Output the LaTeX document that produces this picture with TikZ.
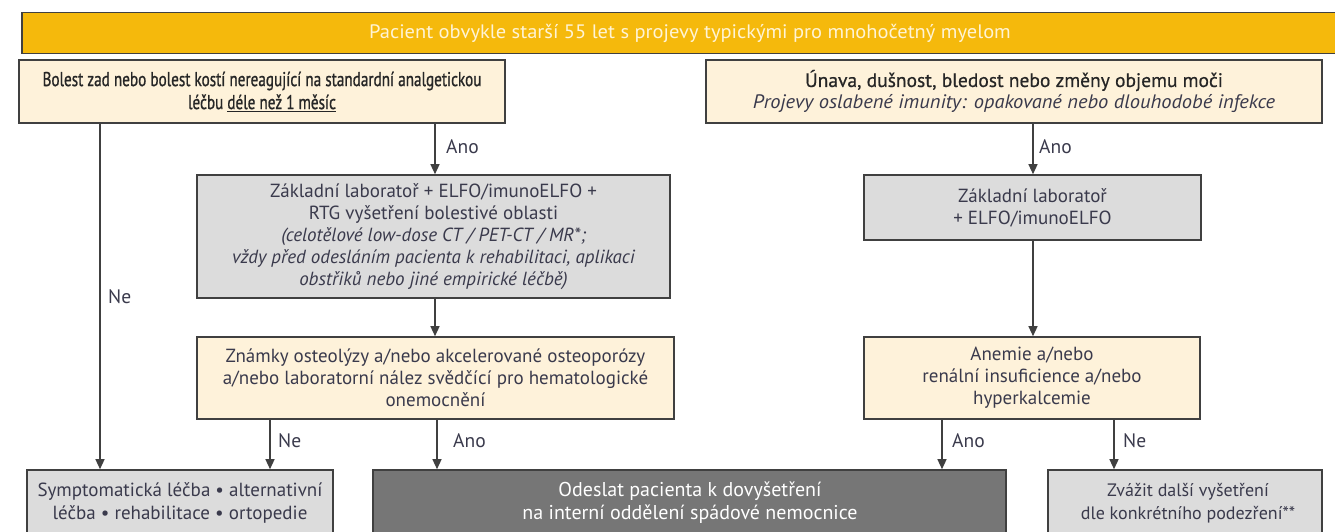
\documentclass[tikz,border=0pt]{standalone}
\usepackage{fontspec}
\setmainfont{PT Sans}
\newfontfamily\regfont{PT Sans}
\newfontfamily\widefont[FakeStretch=1.05]{PT Sans}
\newfontfamily\condtitlefont[FakeStretch=0.76,FakeBold=0.9]{PT Sans}
\newfontfamily\titlefont[FakeBold=0.6]{PT Sans}
\usetikzlibrary{arrows.meta}
\definecolor{barfill}{HTML}{F5B90C}
\definecolor{beige}{HTML}{FEF2DA}
\definecolor{lgray}{HTML}{DCDCDC}
\definecolor{dgray}{HTML}{767676}
\definecolor{edge}{HTML}{404040}
\definecolor{txt}{HTML}{3A3A4C}
\definecolor{bartxt}{HTML}{FFF4D6}
\begin{document}
\begin{tikzpicture}[x=1pt,y=-1pt,
  box/.style={draw=edge, line width=1.6pt, inner sep=0pt, text=txt, align=center,
    font=\regfont\fontsize{19}{22}\selectfont},
  arr/.style={draw=edge, line width=1.3pt, -{Triangle[length=10pt,width=9pt]}},
  lab/.style={text=txt, anchor=west, inner sep=0pt, font=\regfont\fontsize{19.5}{22}\selectfont},
  btxt/.style={text=txt, align=center, inner sep=0pt, font=\regfont\fontsize{19}{23}\selectfont}]
\useasboundingbox (0,0) rectangle (1335,531);
\clip (0,0) rectangle (1335,531);

% top bar
\node[box, fill=barfill, minimum width=1323pt, minimum height=41pt, text=bartxt,
  font=\widefont\fontsize{19.5}{22}\selectfont] (top) at (683.5,33)
  {\hspace*{13pt}Pacient obvykle starší 55 let s projevy typickými pro mnohočetný myelom};

% first row
\node[box, fill=beige, minimum width=486pt, minimum height=63pt,
  font=\condtitlefont\fontsize{20}{23}\selectfont, text=black!85] (L1) at (262,91.5)
  {Bolest zad nebo bolest kostí nereagující na standardní analgetickou\\
   léčbu \underline{déle než 1 měsíc}};
\node[box, fill=beige, minimum width=616pt, minimum height=63pt] (R1) at (1014,91.5)
  {{\titlefont\fontsize{19.5}{22}\selectfont\color{black!85}Únava, dušnost, bledost nebo změny objemu moči}\\
   {\widefont\fontsize{19.5}{22}\selectfont\itshape Projevy oslabené imunity: opakované nebo dlouhodobé infekce}};

% second row
\node[box, fill=lgray, minimum width=473pt, minimum height=123pt] (L2) at (433.5,236.5)
  {Základní laboratoř + ELFO/imunoELFO +\\
   RTG vyšetření bolestivé oblasti\\
   \itshape (celotělové low-dose CT / PET-CT / MR*;\\
   \itshape vždy před odesláním pacienta k rehabilitaci, aplikaci\\
   \itshape obstřiků nebo jiné empirické léčbě)};
\node[box, fill=lgray, minimum width=337pt, minimum height=65pt] (R2) at (1032.5,207.5)
  {Základní laboratoř\\+ ELFO/imunoELFO};

% third row
\node[box, fill=beige, minimum width=477pt, minimum height=82pt] (L3) at (435.5,378)
  {Známky osteolýzy a/nebo akcelerované osteoporózy\\
   a/nebo laboratorní nález svědčící pro hematologické\\
   onemocnění};
\node[box, fill=beige, minimum width=336pt, minimum height=82pt] (R3) at (1032,378)
  {Anemie a/nebo\\renální insuficience a/nebo\\hyperkalcemie};

% bottom row (cut off by the page edge)
\node[box, fill=lgray, minimum width=306pt, minimum height=80pt] (S) at (180,510) {};
\node[box, fill=dgray, minimum width=633pt, minimum height=80pt] (D) at (689.5,510) {};
\node[box, fill=lgray, minimum width=274pt, minimum height=80pt] (Z) at (1185,510) {};
\node[btxt] (St) at (180,503) {Symptomatická léčba • alternativní\\léčba • rehabilitace • ortopedie};
\node[btxt, text=white, font=\regfont\fontsize{20}{23}\selectfont] (Dt) at (690,503)
  {Odeslat pacienta k dovyšetření\\na interní oddělení spádové nemocnice};
\node[btxt, font=\regfont\fontsize{18}{23}\selectfont] (Zt) at (1188,503) {Zvážit další vyšetření\\dle konkrétního podezření**};

% x positions of connectors
\coordinate (xa) at (100,0);
\coordinate (xb) at (435,0);
\coordinate (xc) at (1033,0);
\coordinate (xd) at (270,0);
\coordinate (xe) at (437,0);
\coordinate (xf) at (942,0);
\coordinate (xg) at (1114,0);

\draw[arr] (L1.south -| xa) -- (S.north -| xa);
\draw[arr] (L1.south -| xb) -- (L2.north -| xb);
\draw[arr] (L2.south -| xb) -- (L3.north -| xb);
\draw[arr] (R1.south -| xc) -- (R2.north -| xc);
\draw[arr] (R2.south -| xc) -- (R3.north -| xc);
\draw[arr] (L3.south -| xd) -- (S.north -| xd);
\draw[arr] (L3.south -| xe) -- (D.north -| xe);
\draw[arr] (R3.south -| xf) -- (D.north -| xf);
\draw[arr] (R3.south -| xg) -- (Z.north -| xg);

% labels
\node[lab] (l1) at (108,297) {Ne};
\node[lab] (l2) at (446,147) {Ano};
\node[lab] (l3) at (1039,147) {Ano};
\node[lab] (l4) at (278,441) {Ne};
\node[lab] (l5) at (453,441) {Ano};
\node[lab] (l6) at (952,441) {Ano};
\node[lab] (l7) at (1123,441) {Ne};
\end{tikzpicture}
\end{document}
